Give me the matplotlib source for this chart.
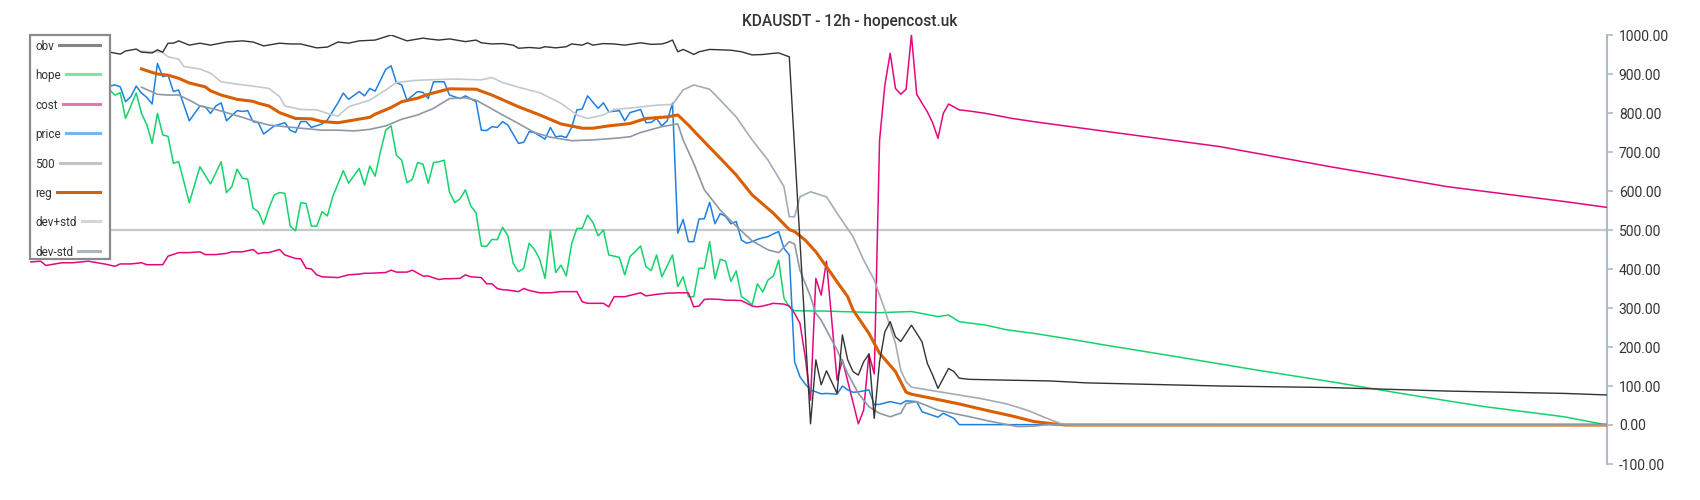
import matplotlib
matplotlib.use('Agg')
import matplotlib.pyplot as plt
import matplotlib.ticker as mticker
from matplotlib.lines import Line2D
from matplotlib.patches import Rectangle

plt.rcParams['font.family'] = ['Roboto', 'DejaVu Sans']

TITLE = 'KDAUSDT - 12h - hopencost.uk'
X_MAX = 297          # last candle index
LEVEL_500 = 500
Y_TICKS = [-100, 0, 100, 200, 300, 400, 500, 600, 700, 800, 900, 1000]
LEG_LABELS = ['obv', 'hope', 'cost', 'price', '500', 'reg', 'dev+std', 'dev-std']
CRASH_IDX = 121      # candle where the band colour changes

# ---- series (candle index, normalised value) ----
obv_t = [0, 5, 10, 15, 17, 18, 20, 21, 23, 24, 25, 26, 27, 28, 30, 32, 34, 37, 40, 42, 44, 47, 49, 51, 54, 56, 58, 60,
         62, 65, 68, 69, 71, 74, 75, 77, 79, 82, 84, 85, 87, 89, 91, 92, 94, 96, 97, 99, 101, 102, 104, 105, 106, 108,
         110, 112, 114, 115, 117, 119, 120, 121, 122, 123, 124, 125, 126, 128, 130, 132, 134, 136, 138, 140, 141, 142,
         143, 147, 148, 149, 150, 152, 153, 154, 155, 156, 157, 158, 159, 160, 161, 162, 163, 164, 166, 167, 168, 169,
         170, 171, 173, 174, 175, 177, 184, 192, 199, 224, 245, 267, 289, 297]
obv_v = [955, 958, 952, 956, 951, 959, 964, 956, 954, 962, 956, 979, 979, 985, 974, 979, 974, 982, 985, 982, 972, 979,
         977, 977, 967, 969, 982, 979, 985, 987, 1000, 995, 985, 992, 990, 987, 990, 983, 987, 980, 977, 978, 974, 966,
         968, 966, 970, 967, 970, 977, 974, 980, 974, 978, 977, 974, 978, 980, 976, 977, 981, 987, 957, 963, 957, 950,
         957, 963, 962, 961, 957, 949, 950, 953, 954, 949, 944, 3, 167, 103, 139, 81, 231, 167, 137, 128, 162, 182, 17,
         162, 239, 265, 226, 214, 256, 235, 213, 158, 128, 94, 145, 137, 120, 117, 115, 113, 108, 100, 96, 87, 81, 77]

hope_t = [0, 3, 6, 9, 12, 15, 16, 17, 18, 20, 21, 22, 23, 24, 25, 26, 27, 28, 30, 32, 34, 36, 37, 38, 39, 40, 41, 42,
          43, 44, 45, 46, 47, 48, 49, 50, 51, 52, 53, 54, 55, 56, 57, 59, 60, 62, 63, 64, 65, 66, 67, 68, 69, 70, 71,
          72, 73, 74, 75, 76, 77, 78, 79, 80, 81, 82, 83, 84, 85, 86, 87, 88, 89, 90, 91, 92, 93, 94, 95, 96, 97, 98,
          99, 100, 101, 102, 103, 104, 105, 106, 107, 108, 109, 110, 111, 112, 113, 114, 115, 116, 117, 118, 119, 120,
          121, 122, 123, 124, 125, 126, 127, 128, 129, 130, 131, 132, 133, 134, 135, 136, 137, 138, 139, 140, 141, 142,
          143, 144, 150, 160, 166, 171, 173, 175, 180, 184, 189, 196, 202, 216, 231, 245, 260, 274, 289, 297]
hope_v = [930, 960, 1000, 950, 900, 859, 846, 852, 786, 851, 799, 770, 722, 799, 744, 740, 671, 675, 570, 662, 618, 675,
          596, 611, 656, 633, 630, 556, 547, 515, 556, 590, 596, 594, 510, 498, 570, 568, 510, 510, 547, 536, 585, 652,
          620, 658, 615, 664, 638, 701, 756, 767, 692, 679, 621, 630, 673, 669, 620, 673, 675, 679, 597, 570, 580, 603,
          562, 544, 459, 458, 476, 475, 507, 485, 415, 393, 402, 466, 450, 425, 376, 498, 391, 410, 382, 464, 504, 504,
          538, 520, 485, 500, 436, 433, 430, 385, 432, 445, 459, 406, 396, 436, 380, 408, 436, 355, 380, 329, 329, 402,
          402, 470, 375, 425, 420, 368, 395, 329, 320, 308, 362, 341, 372, 382, 423, 325, 303, 293, 292, 288, 291, 278,
          282, 265, 256, 244, 235, 220, 206, 175, 141, 111, 77, 47, 21, 0]

cost_t = [0, 2, 3, 6, 8, 11, 14, 16, 17, 19, 21, 22, 25, 26, 28, 30, 32, 33, 35, 37, 38, 40, 42, 43, 44, 45, 47, 48, 50,
          51, 52, 53, 54, 55, 58, 60, 62, 63, 64, 67, 68, 69, 71, 72, 74, 75, 77, 78, 79, 81, 82, 83, 85, 86, 87, 88,
          89, 90, 92, 93, 94, 96, 98, 100, 103, 104, 105, 107, 108, 109, 110, 112, 115, 116, 118, 120, 122, 124, 125,
          126, 127, 128, 130, 131, 132, 134, 135, 136, 137, 138, 140, 142, 143, 144, 145, 146, 147, 148, 149, 150, 151,
          152, 153, 154, 155, 156, 157, 158, 159, 160, 161, 162, 163, 164, 165, 166, 167, 168, 169, 170, 171, 172, 173,
          175, 177, 180, 185, 190, 196, 202, 224, 245, 267, 289, 297]
cost_v = [418, 420, 409, 416, 416, 420, 413, 407, 413, 413, 416, 411, 411, 433, 442, 442, 444, 437, 437, 440, 444, 444,
          450, 439, 442, 442, 450, 436, 427, 426, 402, 400, 385, 380, 378, 385, 387, 389, 389, 391, 397, 392, 392, 397,
          382, 382, 373, 375, 375, 376, 385, 380, 378, 362, 362, 350, 347, 346, 342, 350, 345, 339, 339, 342, 342, 316,
          312, 312, 312, 303, 329, 329, 339, 331, 335, 338, 339, 339, 303, 305, 322, 323, 322, 320, 320, 319, 312, 305,
          303, 305, 312, 310, 305, 286, 261, 175, 64, 376, 333, 420, 269, 115, 167, 113, 58, 3, 38, 182, 131, 730, 872,
          953, 863, 848, 861, 1000, 848, 825, 803, 775, 735, 799, 823, 808, 805, 799, 786, 776, 765, 754, 714, 662, 611,
          573, 558]

price_t = [0, 5, 10, 15, 16, 17, 18, 19, 20, 21, 22, 23, 24, 25, 26, 27, 28, 30, 32, 33, 34, 35, 36, 37, 39, 40, 41, 42,
           43, 44, 46, 48, 49, 50, 51, 52, 53, 55, 56, 58, 59, 60, 62, 63, 64, 65, 67, 68, 69, 70, 71, 73, 74, 75, 76,
           78, 79, 81, 82, 84, 85, 86, 87, 88, 89, 90, 92, 93, 94, 95, 97, 98, 99, 100, 101, 102, 103, 104, 105, 107,
           108, 109, 111, 112, 113, 115, 116, 117, 118, 119, 120, 121, 122, 123, 124, 125, 126, 127, 128, 129, 130, 131,
           132, 133, 134, 135, 136, 137, 138, 139, 140, 141, 142, 143, 144, 145, 146, 147, 148, 149, 150, 152, 153, 154,
           155, 156, 158, 159, 160, 162, 164, 165, 167, 168, 171, 172, 174, 175, 297]
price_v = [870, 872, 868, 869, 872, 867, 829, 842, 869, 851, 840, 823, 927, 893, 897, 855, 859, 780, 818, 816, 799, 818,
           826, 780, 806, 804, 806, 778, 775, 746, 767, 775, 756, 750, 778, 778, 763, 772, 782, 826, 851, 835, 855, 844,
           863, 856, 912, 921, 878, 872, 833, 855, 853, 837, 880, 880, 846, 837, 844, 829, 756, 755, 765, 763, 778, 769,
           722, 725, 752, 750, 733, 763, 739, 741, 737, 763, 808, 810, 844, 812, 826, 803, 806, 780, 801, 809, 775, 776,
           786, 767, 780, 825, 492, 527, 470, 470, 528, 529, 571, 516, 542, 535, 516, 522, 474, 466, 470, 476, 480, 483,
           490, 496, 453, 436, 162, 124, 105, 90, 85, 80, 81, 79, 100, 90, 84, 85, 90, 52, 53, 60, 54, 62, 60, 34, 20,
           30, 17, 1, 0]

reg_t = [21, 23, 24, 26, 28, 30, 33, 34, 36, 39, 42, 43, 45, 47, 50, 53, 55, 58, 61, 64, 65, 68, 70, 73, 75, 79, 84, 87,
         92, 96, 100, 104, 106, 109, 113, 116, 120, 122, 124, 127, 130, 133, 136, 140, 143, 144, 146, 148, 150, 152,
         154, 155, 158, 160, 163, 165, 166, 170, 175, 180, 185, 189, 192, 195, 297]
reg_v = [913, 904, 900, 897, 889, 877, 867, 857, 846, 835, 830, 825, 818, 801, 786, 785, 778, 775, 782, 789, 797, 814,
         829, 838, 848, 862, 861, 846, 816, 795, 772, 761, 761, 767, 773, 786, 790, 795, 769, 726, 684, 641, 590, 543,
         501, 496, 474, 444, 406, 367, 329, 295, 235, 184, 137, 84, 79, 68, 54, 38, 23, 9, 4, 0, 0]

devp_t = [21, 24, 25, 26, 28, 29, 31, 32, 34, 36, 39, 42, 45, 47, 48, 51, 54, 56, 58, 60, 64, 67, 69, 72, 75, 80, 85,
          87, 89, 92, 96, 100, 103, 105, 108, 110, 114, 118, 121, 123, 125, 128, 130, 133, 136, 139, 142, 143, 144,
          145, 147, 150, 152, 155, 157, 159, 161, 163, 164, 165, 166, 170, 174, 179, 184, 188, 191, 194, 195, 297]
devp_v = [958, 957, 955, 944, 938, 919, 915, 913, 902, 880, 874, 869, 863, 842, 818, 809, 808, 799, 792, 816, 833, 859,
          878, 883, 885, 887, 885, 891, 878, 866, 852, 825, 795, 786, 795, 809, 814, 820, 822, 859, 872, 861, 833, 790,
          731, 679, 611, 534, 534, 585, 598, 585, 543, 483, 423, 372, 295, 209, 140, 111, 97, 88, 79, 68, 54, 37, 20,
          4, 0, 0]

devm_t = [21, 24, 26, 28, 30, 32, 35, 37, 40, 42, 45, 48, 51, 55, 58, 61, 64, 67, 70, 73, 76, 79, 82, 84, 86, 89, 92,
          95, 98, 102, 106, 110, 113, 115, 119, 122, 123, 125, 127, 130, 133, 136, 139, 141, 143, 144, 145, 147, 148,
          149, 152, 154, 156, 158, 159, 160, 162, 163, 164, 165, 167, 171, 177, 181, 186, 189, 192, 195, 297]
devm_v = [866, 848, 846, 846, 833, 818, 809, 801, 789, 780, 769, 765, 761, 756, 756, 754, 758, 767, 784, 795, 812, 837,
          839, 833, 818, 795, 773, 750, 738, 729, 731, 735, 739, 750, 765, 772, 731, 671, 603, 551, 510, 472, 449, 442,
          470, 464, 397, 329, 286, 269, 192, 132, 81, 47, 38, 30, 21, 26, 30, 55, 60, 38, 21, 9, -4, -3, 2, 0, 0]

# ---- style ----
C_OBV, C_HOPE, C_COST, C_PRICE = '#333333', '#14d36b', '#e5077f', '#1f80e0'
C_500, C_REG, C_DEVP, C_DEVP2, C_DEVM = '#c8c8c8', '#d95f02', '#c3c9cf', '#a3adb7', '#8d99a5'
LEG_COLORS = ['#858585', '#7ae6a6', '#ec74ae', '#78b4ec', '#c4c4c4', '#d2600c', '#d3d7db', '#adb6be']

FW, FH = 1700, 500
fig = plt.figure(figsize=(FW / 100, FH / 100), dpi=100)
ax = fig.add_axes([30 / FW, 1 - 464 / FH, (1607 - 30) / FW, (464 - 35) / FH])
ax.patch.set_alpha(0)

ax.axhline(LEVEL_500, color=C_500, lw=1.6, zorder=1)
ax.plot(hope_t, hope_v, color=C_HOPE, lw=1.1, zorder=2)
ax.plot(cost_t, cost_v, color=C_COST, lw=1.1, zorder=3)
ax.plot(price_t, price_v, color=C_PRICE, lw=1.1, zorder=4)
ax.plot(reg_t, reg_v, color=C_REG, lw=2.2, zorder=5, solid_joinstyle='round')
k = devp_t.index(CRASH_IDX)
ax.plot(devp_t[:k + 1], devp_v[:k + 1], color=C_DEVP, lw=1.2, zorder=6)
ax.plot(devp_t[k:], devp_v[k:], color=C_DEVP2, lw=1.2, zorder=6)
ax.plot(devm_t, devm_v, color=C_DEVM, lw=1.2, zorder=6)
ax.plot(obv_t, obv_v, color=C_OBV, lw=1.0, zorder=7)

ax.set_xlim(0, X_MAX)
ax.set_ylim(Y_TICKS[0], Y_TICKS[-1])
ax.set_xticks([])
ax.set_yticks(Y_TICKS)
ax.yaxis.set_major_formatter(mticker.FormatStrFormatter('%.2f'))
for s in ['left', 'top', 'bottom']:
    ax.spines[s].set_visible(False)
ax.spines['right'].set_color('#b0bac4')
ax.spines['right'].set_linewidth(1.5)
ax.tick_params(axis='y', direction='out', length=4, width=1.2, color='#b0bac4',
               labelcolor='#333333', labelsize=10, pad=4.5,
               left=False, right=True, labelleft=False, labelright=True)

fig.text(0.5, 1 - 26 / FH, TITLE, ha='center', va='baseline', fontsize=11.2,
         fontweight='medium', color='#333333')

# ---- legend box ----
box = Rectangle((30 / FW, 1 - 259 / FH), 80 / FW, 224 / FH, transform=fig.transFigure,
                facecolor='white', edgecolor='#8a8a8a', lw=1.6, zorder=20)
fig.add_artist(box)
renderer = fig.canvas.get_renderer()
for i, (lab, col) in enumerate(zip(LEG_LABELS, LEG_COLORS)):
    ypx = 45 + i * 29.4
    t = fig.text(35 / FW, 1 - ypx / FH, lab, ha='left', va='center_baseline',
                 fontsize=8.5, color='#333333', zorder=21)
    bb = t.get_window_extent(renderer=renderer)
    fig.add_artist(Line2D([(bb.x1 + 5) / FW, 100 / FW], [1 - ypx / FH] * 2,
                          transform=fig.transFigure, color=col, lw=2.2, zorder=21))

fig.savefig('out.png', dpi=100)
